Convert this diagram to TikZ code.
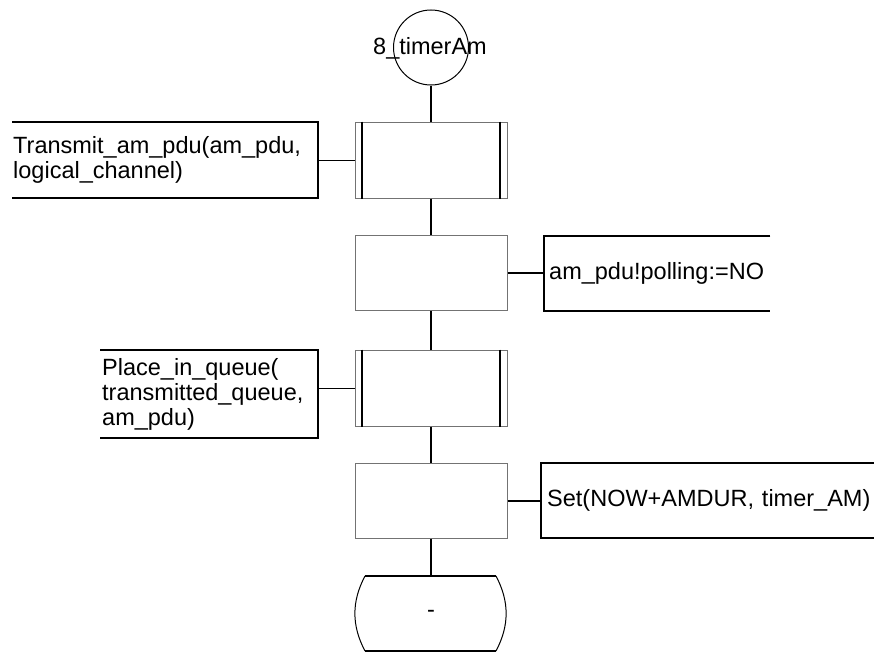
\documentclass[tikz,border=0pt]{standalone}
\usepackage{fontspec}
\setmainfont{Liberation Sans}
\usetikzlibrary{calc}
\begin{document}
\begin{tikzpicture}[x=1pt,y=-1pt,
  every node/.style={font=\fontsize{23.5}{25}\selectfont},
  flow/.style={line width=2pt},
  thinlink/.style={line width=1pt},
  taskbox/.style={draw=black!55, line width=1pt, minimum width=152pt, minimum height=76pt, inner sep=0pt},
  procbar/.style={line width=2.2pt},
  note/.style={align=left, inner ysep=0pt, anchor=north west},
  notebrace/.style={line width=2pt},
  startcircle/.style={draw, circle, line width=1pt, minimum size=75pt, inner sep=0pt}
]
\useasboundingbox (0,0) rectangle (874,653);

% start symbol with its label
\node[startcircle] (start) at (431,47.5) {};
\node (startlabel) at (430,48) {8\_timerAm};

% tasks and procedure calls
\node[taskbox] (b1) at (431,160) {};
\node[taskbox, minimum height=75pt] (b2) at (431,273) {};
\node[taskbox] (b3) at (431,388) {};
\node[taskbox, minimum height=75pt] (b4) at (431,500.5) {};

% double side bars of the procedure calls
\foreach \b in {b1,b3} {
  \draw[procbar] ($(\b.north west)+(7.7,0)$) -- ($(\b.south west)+(7.7,0)$);
  \draw[procbar] ($(\b.north east)+(-7.7,0)$) -- ($(\b.south east)+(-7.7,0)$);
}

% stop/next-state symbol
\node (stop) at (431,613.5) {-};
\draw[line width=2pt] ($(stop)+(-66,-37.5)$) -- ($(stop)+(65,-37.5)$)
                      ($(stop)+(-66,37.5)$) -- ($(stop)+(65,37.5)$);
\draw[line width=1pt] ($(stop)+(65,-37.5)$) .. controls ($(stop)+(78.5,-12)$) and ($(stop)+(78.5,12)$) .. ($(stop)+(65,37.5)$);
\draw[line width=1pt] ($(stop)+(-66,-37.5)$) .. controls ($(stop)+(-79.5,-12)$) and ($(stop)+(-79.5,12)$) .. ($(stop)+(-66,37.5)$);

% comments
\node[note, inner xsep=1pt, text width=304pt, minimum width=306pt, minimum height=76pt] (c1) at (12,122)
  {Transmit\_am\_pdu(am\_pdu,\\logical\_channel)};
\node[note, inner xsep=5pt, text width=216pt, minimum width=226pt, minimum height=75pt] (c2) at (544,236)
  {am\_pdu!polling:=NO};
\node[note, inner xsep=2pt, text width=214pt, minimum width=218pt, minimum height=88pt] (c3) at (100,350)
  {Place\_in\_queue(\\transmitted\_queue,\\am\_pdu)};
\node[note, inner xsep=6pt, text width=330pt, minimum width=342pt, minimum height=75pt] (c4) at (541,463)
  {Set(NOW+AMDUR, timer\_AM)};

\draw[notebrace] (c1.north west) -- (c1.north east) -- (c1.south east) -- (c1.south west);
\draw[notebrace] (c3.north west) -- (c3.north east) -- (c3.south east) -- (c3.south west);
\draw[notebrace] (c2.north east) -- (c2.north west) -- (c2.south west) -- (c2.south east);
\draw[notebrace] (c4.north east) -- (c4.north west) -- (c4.south west) -- (c4.south east);

% links from comments to their symbols
\draw[thinlink] (c1.east |- b1.west) -- (b1.west);
\draw[thinlink] (c3.east |- b3.west) -- (b3.west);
\draw[flow] (b2.east) -- (c2.west |- b2.east);
\draw[flow] (b4.east) -- (c4.west |- b4.east);

% main flow
\draw[flow] (start.south) -- (b1.north);
\draw[flow] (b1.south) -- (b2.north);
\draw[flow] (b2.south) -- (b3.north);
\draw[flow] (b3.south) -- (b4.north);
\draw[flow] (b4.south) -- ($(stop)+(0,-37.5)$);
\end{tikzpicture}
\end{document}
